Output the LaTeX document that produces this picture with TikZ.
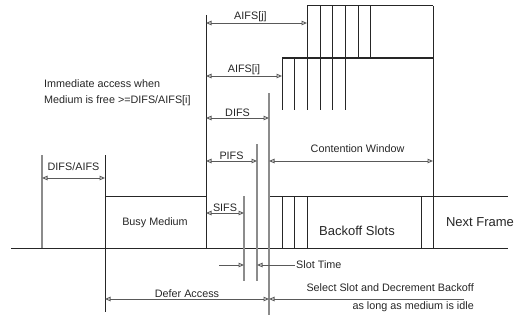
\documentclass[tikz,border=0pt]{standalone}
\usepackage{fontspec}
\setmainfont{Liberation Sans}
\usetikzlibrary{arrows.meta, positioning}

\begin{document}
\begin{tikzpicture}[
        x=1pt, y=-1pt,
        >={Triangle[open, length=5.5pt, width=4.5pt]},
        txt/.style={font=\fontsize{10.8}{12}\selectfont, text=black!85, inner sep=1pt},
        big/.style={font=\fontsize{13}{15}\selectfont, text=black!85, inner sep=1pt},
        frame/.style={draw=black!85, line width=1pt},
        guide/.style={draw=black!45, line width=1.2pt},
        span/.style={<->, draw=black!65, line width=0.9pt}
    ]
    \useasboundingbox (0,0) rectangle (524,321);

    % Medium and slots
    \draw[frame] (11,248) -- (508,248);
    \draw[frame] (105,155) -- (105,312);
    \draw[frame] (105,196) -- (206,196);
    \draw[frame] (206,15) -- (206,248);
    \draw[frame] (269,196) -- (508,196);
    \foreach \x in {282,294,307,421}
        \draw[frame] (\x,196) -- (\x,248);
    \draw[frame] (433,6) -- (433,248);

    % Contention window staircase
    \draw[frame] (307,6) -- (433,6);
    \draw[frame] (282,58) -- (433,58);
    \foreach \x in {282,294}
        \draw[frame] (\x,58) -- (\x,110);
    \foreach \x in {307,320,332,345}
        \draw[frame] (\x,6) -- (\x,110);
    \foreach \x in {358,370}
        \draw[frame] (\x,6) -- (\x,58);

    % Guide lines
    \draw[guide] (42,155) -- (42,248);
    \draw[guide] (244,196) -- (244,281);
    \draw[guide] (257,144) -- (257,281);
    \draw[guide] (269,93) -- (269,315);

    % Nodes
    \node[txt] (busy) at (155,223) {Busy Medium};
    \node[big] (backoff) at (357,231) {Backoff Slots};
    \node[big] (next) at (480,222) {Next Frame};
    \node[txt, align=left, anchor=west, font=\fontsize{10.8}{16}\selectfont] (immediate) at (43,93)
        {Immediate access when\\Medium is free >=DIFS/AIFS[i]};
    \node[txt, anchor=east] (select) at (475,288) {Select Slot and Decrement Backoff};
    \node[txt, anchor=east] (idle) at (475,307) {as long as medium is idle};

    % Arrow ends
    \coordinate (daL) at (42,178);
    \coordinate (daR) at (105,178);
    \coordinate (ajL) at (206,23);
    \coordinate (ajR) at (307,23);
    \coordinate (aiL) at (206,76);
    \coordinate (aiR) at (282,76);
    \coordinate (dfL) at (206,118);
    \coordinate (dfR) at (269,118);
    \coordinate (pfL) at (206,161);
    \coordinate (pfR) at (257,161);
    \coordinate (cwL) at (269,161);
    \coordinate (cwR) at (433,161);
    \coordinate (sfL) at (206,213);
    \coordinate (sfR) at (244,213);
    \coordinate (stA) at (219,265);
    \coordinate (stB) at (244,265);
    \coordinate (stC) at (257,265);
    \coordinate (stD) at (295,265);
    \coordinate (defL) at (105,299);
    \coordinate (defR) at (269,299);
    \coordinate (selR) at (464,299);

    % Arrows
    \draw[span] (daL) -- node[txt, above=6pt] (daLbl) {DIFS/AIFS} (daR);
    \draw[span] (ajL) -- node[txt, above, pos=0.44] (ajLbl) {AIFS[j]} (ajR);
    \draw[span] (aiL) -- node[txt, above] (aiLbl) {AIFS[i]} (aiR);
    \draw[span] (dfL) -- node[txt, above] (dfLbl) {DIFS} (dfR);
    \draw[span] (pfL) -- node[txt, above] (pfLbl) {PIFS} (pfR);
    \draw[span] (cwL) -- node[txt, above=7pt, pos=0.54] (cwLbl) {Contention Window} (cwR);
    \draw[span] (sfL) -- node[txt, above] (sfLbl) {SIFS} (sfR);
    \draw[span, ->] (stA) -- (stB);
    \draw[span, ->] (stD) -- (stC);
    \node[txt, anchor=west] (slot) at (stD) {Slot Time};
    \draw[span] (defL) -- node[txt, above] (defLbl) {Defer Access} (defR);
    \draw[span, ->] (selR) -- (defR);

\end{tikzpicture}
\end{document}
